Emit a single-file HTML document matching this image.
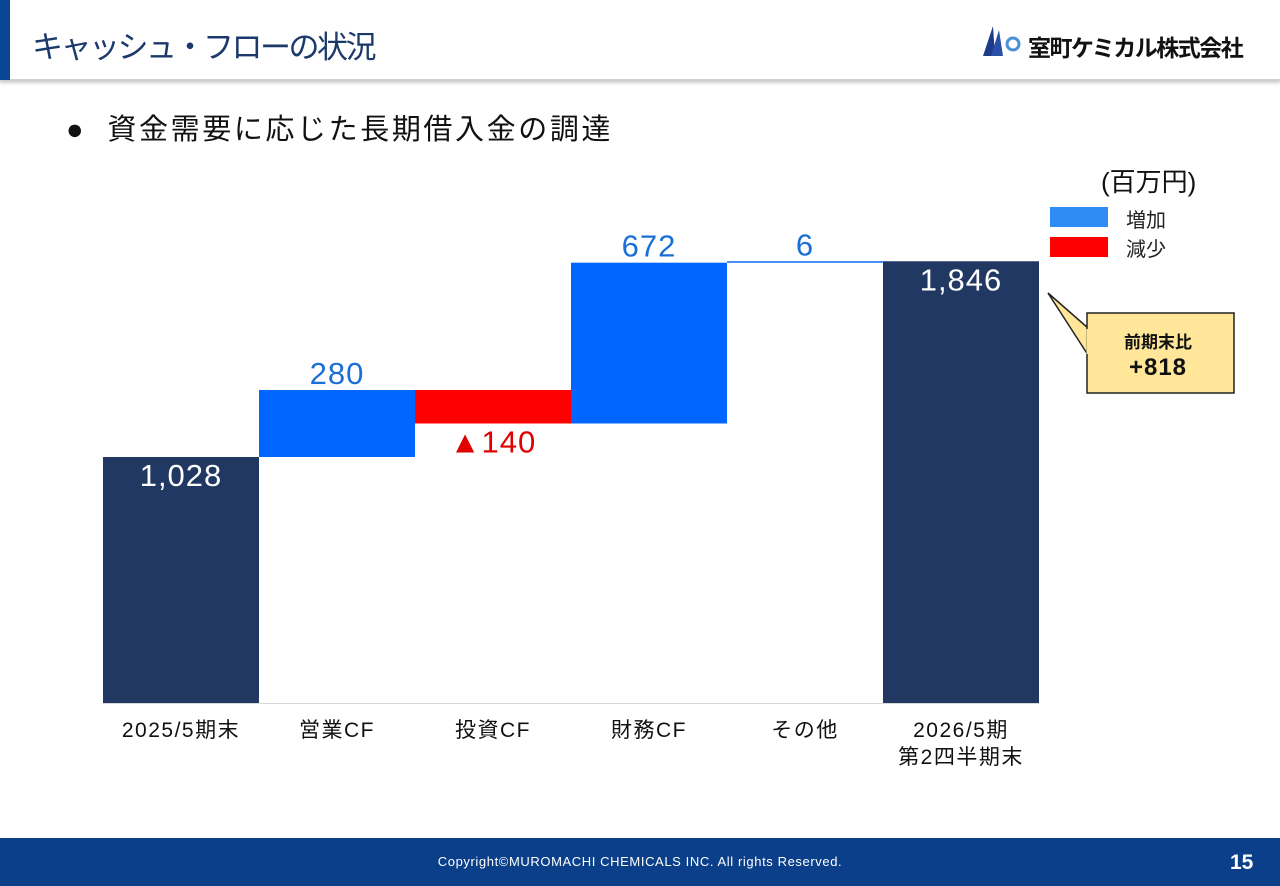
<!DOCTYPE html>
<html><head><meta charset="utf-8"><style>
body{margin:0;width:1280px;height:886px;position:relative;background:#fff;font-family:"Liberation Sans","Noto Sans CJK JP",sans-serif;overflow:hidden}
.abs{position:absolute;white-space:nowrap}
</style></head><body>
<div class="abs" style="left:0;top:0;width:1280px;height:79px;background:#fff;border-bottom:2px solid #d0d0d0;box-shadow:0 2px 3px #ccc"></div>
<div class="abs" style="left:0;top:0;width:10px;height:80px;background:#0b4595"></div>
<div class="abs" style="left:32px;top:22px;font-size:31px;color:#1b3a6b;letter-spacing:-2.5px">キャッシュ・フローの状況</div>
<div class="abs" style="left:983px;top:24px;width:40px;height:32px">
<svg width="44" height="34"><polygon points="0,32 10,2 12,32" fill="#1e3a8a"/><polygon points="8,32 16,6 20,32" fill="#2a4fa8"/><circle cx="30" cy="20" r="6" fill="none" stroke="#4a90d9" stroke-width="3"/></svg></div>
<div class="abs" style="left:1028px;top:29px;font-size:23px;font-weight:bold;color:#111;letter-spacing:-1.5px">室町ケミカル株式会社</div>
<div class="abs" style="left:66px;top:106px;font-size:29px;color:#111;letter-spacing:2.6px">●&nbsp; 資金需要に応じた長期借入金の調達</div>
<div class="abs" style="left:1101px;top:162px;font-size:26px;color:#111">(百万円)</div>
<div class="abs" style="left:1050px;top:207px;width:58px;height:20px;background:#2f8cf5"></div>
<div class="abs" style="left:1126px;top:204px;font-size:20px;color:#222">増加</div>
<div class="abs" style="left:1050px;top:237px;width:58px;height:20px;background:#ff0000"></div>
<div class="abs" style="left:1126px;top:233px;font-size:20px;color:#222">減少</div>
<svg class="abs" style="left:1040px;top:285px" width="200" height="115">
<polygon points="8,8 48,43 48,70" fill="#ffe699" stroke="#222" stroke-width="1.5"/>
<rect x="47" y="28" width="147" height="80" fill="#ffe699" stroke="#222" stroke-width="1.5"/>
<line x1="48" y1="44" x2="48" y2="69" stroke="#ffe699" stroke-width="3"/>
<text x="118" y="63" text-anchor="middle" font-size="17" font-weight="bold" fill="#111" font-family="Liberation Sans,Noto Sans CJK JP,sans-serif">前期末比</text>
<text x="118" y="90" text-anchor="middle" font-size="24" font-weight="bold" fill="#111" letter-spacing="1" font-family="Liberation Sans,sans-serif">+818</text>
</svg>
<svg id="chart" class="abs" style="left:0;top:0" width="1280" height="886"></svg>
<div class="abs" style="left:0;top:838px;width:1280px;height:48px;background:#0b3f8a"></div>
<div class="abs" style="left:0;top:854px;width:1280px;text-align:center;font-size:13px;color:#fff;letter-spacing:0.6px">Copyright©MUROMACHI CHEMICALS INC. All rights Reserved.</div>
<div class="abs" style="left:1230px;top:851px;font-size:21px;font-weight:bold;color:#fff">15</div>
<script>
const categories=["2025/5期末","営業CF","投資CF","財務CF","その他","2026/5期|第2四半期末"];
const values=[1028,280,-140,672,6,1846];
const types=["total","delta","delta","delta","delta","total"];
const valueLabels=["1,028","280","▲140","672","6","1,846"];
const svg=document.getElementById('chart');
const NS='http://www.w3.org/2000/svg';
const x0=103,bw=156,base=703,k=246/1028;
const y=v=>base-v*k;
function mk(t,a){const e=document.createElementNS(NS,t);for(const n in a)e.setAttribute(n,a[n]);svg.appendChild(e);return e;}
let run=0;
categories.forEach((c,i)=>{
  const x=x0+i*bw;let top,bot,col,lab=valueLabels[i],ly,lc;
  if(types[i]==="total"){top=y(values[i]);bot=base;col="#213962";run=values[i];ly=top+29;lc="#fff";}
  else{const s=run,e=run+values[i];run=e;top=y(Math.max(s,e));bot=y(Math.min(s,e));
    if(values[i]>=0){col="#0066ff";ly=top-6;lc="#1a6fd6";}else{col="#ff0000";ly=bot+29;lc="#e00000";}}
  const r=mk('rect',{x:x,y:top,width:bw,height:Math.max(bot-top,1),fill:col});
  
  
  const t=mk('text',{x:x+bw/2,y:ly,'text-anchor':'middle','font-size':31,fill:lc,'letter-spacing':1,'font-family':'Liberation Sans,Noto Sans CJK JP,sans-serif'});
  t.textContent=lab;
  
  
  c.split('|').forEach((ln,j)=>{
    const tl=mk('text',{x:x+bw/2,y:737+j*27,'text-anchor':'middle','font-size':21,fill:'#111','letter-spacing':1.5,'font-family':'Liberation Sans,Noto Sans CJK JP,sans-serif'});
    tl.textContent=ln;
    
    
  });
});
const ax=mk('line',{x1:x0,x2:x0+6*bw,y1:base+0.5,y2:base+0.5,stroke:'#d9d9d9','stroke-width':1});


</script>
</body></html>
